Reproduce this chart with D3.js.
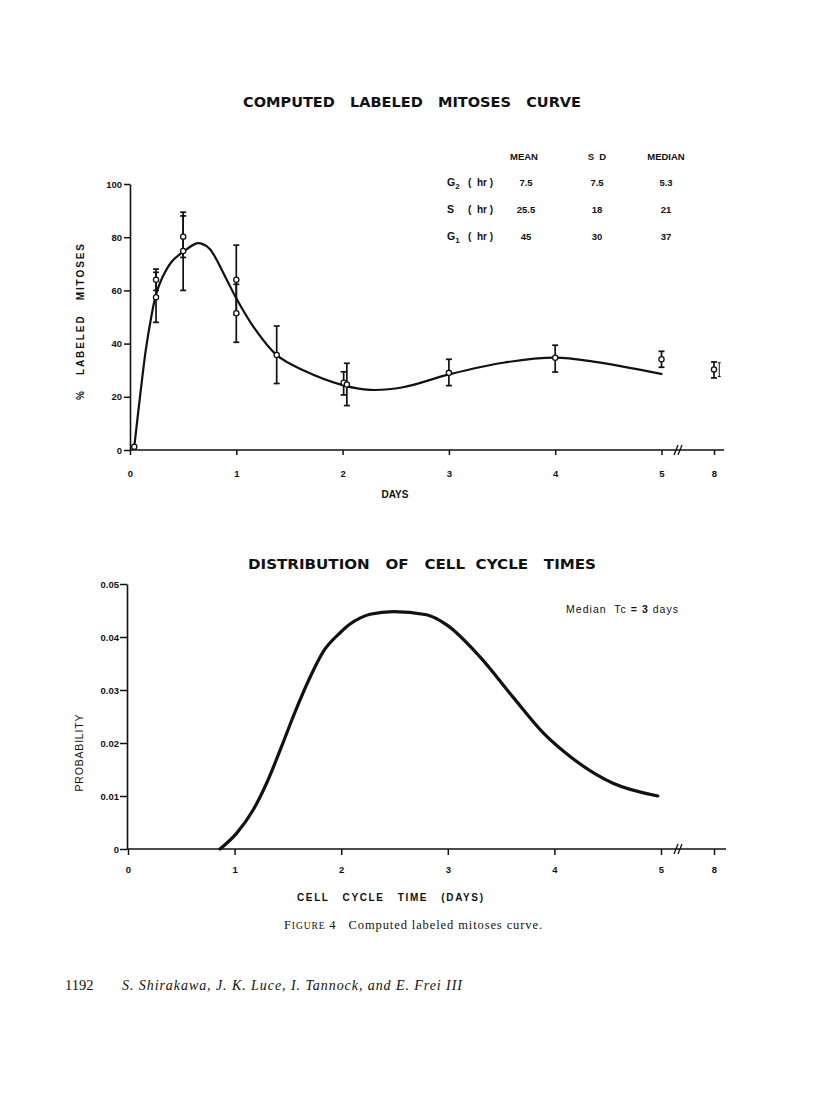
<!DOCTYPE html>
<html>
<head>
<meta charset="utf-8">
<script src="https://cdn.jsdelivr.net/npm/d3@7"></script>
<style>
  body { margin: 0; background: #fff; }
  svg { display: block; }
  .tick text { font-family: "Liberation Sans", Arial, sans-serif; font-weight: bold; font-size: 9.5px; fill: #111; }
  .sans { font-family: "Liberation Sans", Arial, sans-serif; fill: #111; }
  .serif { font-family: "Liberation Serif", "DejaVu Serif", serif; fill: #111; }
</style>
</head>
<body>
<div id="page"></div>
<script>
// --- top chart: observed labeled mitoses (time in days, % labeled) ---
const obsTime = [0.04, 0.245, 0.245, 0.5, 0.5, 1.0, 1.0, 1.38, 2.01, 2.04, 3.0, 4.0, 5.0, 8.0];
const obsValue = [1.2, 64, 57.4, 80.2, 74.8, 64, 51.4, 35.7, 25.3, 24.6, 29, 34.7, 34.1, 30.3];
const obsLow = [null, 60, 48, 72.4, 60, 51, 40.5, 25, 20.7, 16.7, 24.2, 29.3, 31.1, 27.1];
const obsHigh = [null, 68, 66.8, 88, 89.4, 77, 62.3, 46.6, 29.4, 32.6, 34.1, 39.4, 37.1, 33.1];
// second bar drawn beside the 8-day point
const extraBarTime = [8.3];
const extraBarLow = [27.6];
const extraBarHigh = [32.8];

// computed curve
const curveTime = [0.04, 0.1, 0.15, 0.2, 0.245, 0.3, 0.392, 0.5, 0.627, 0.69, 0.753, 0.91, 1.0, 1.16, 1.38, 1.63, 2.0, 2.26, 2.57, 3.01, 3.51, 4.0, 4.36, 5.05];
const curveValue = [1.2, 22, 38, 50, 58.5, 64.5, 70.8, 74.5, 77.7, 77.3, 75.5, 64, 57, 46.4, 35.7, 30, 24.4, 22.6, 23.6, 28.5, 32.8, 34.7, 33.2, 28.5];

// table of phase durations
const tablePhases = ["G", "S", "G"];
const tableSubs = ["2", "", "1"];
const tableHeads = ["MEAN", "S D", "MEDIAN"];
const tableMean = ["7.5", "25.5", "45"];
const tableSD = ["7.5", "18", "30"];
const tableMedian = ["5.3", "21", "37"];

// --- bottom chart: distribution of cell cycle times ---
const distTime = [0.863, 1.02, 1.175, 1.3, 1.44, 1.55, 1.71, 1.83, 1.99, 2.08, 2.18, 2.27, 2.49, 2.8, 2.99, 3.3, 3.61, 3.9, 4.15, 4.55, 4.97];
const distProb = [0, 0.003, 0.0074, 0.0124, 0.0193, 0.025, 0.0325, 0.0372, 0.0408, 0.0424, 0.0436, 0.0443, 0.0448, 0.0442, 0.0423, 0.0363, 0.0287, 0.0218, 0.0174, 0.0124, 0.01];

const xTicks = [0, 1, 2, 3, 4, 5, 8];
const yTicksTop = [0, 20, 40, 60, 80, 100];
const yTicksBot = [0, 0.01, 0.02, 0.03, 0.04, 0.05];

const W = 816, H = 1100;
const ink = "#111";

const svg = d3.select("#page").append("svg")
  .attr("width", W).attr("height", H)
  .attr("viewBox", `0 0 ${W} ${H}`);

svg.append("rect").attr("width", W).attr("height", H).attr("fill", "#fff");

// scales (piecewise x: break between 5 and 8)
const xTop = d3.scaleLinear().domain([0, 5, 8]).range([130, 661.5, 714]);
const yTop = d3.scaleLinear().domain([0, 100]).range([450, 184]);
const xBot = d3.scaleLinear().domain([0, 5, 8]).range([128, 661, 714]);
const yBot = d3.scaleLinear().domain([0, 0.05]).range([849, 584]);

function styleAxis(g) {
  g.selectAll(".domain").attr("stroke", ink).attr("stroke-width", 1.6);
  g.selectAll(".tick line").attr("stroke", ink).attr("stroke-width", 1.5);
}

function breakMark(g, x, y) {
  [0, 4].forEach(dx => {
    g.append("line")
      .attr("x1", x + dx - 2).attr("y1", y + 5)
      .attr("x2", x + dx + 2).attr("y2", y - 5)
      .attr("stroke", ink).attr("stroke-width", 1.3);
  });
}

// ================= TOP CHART =================
const topG = svg.append("g");

topG.append("text").attr("class", "sans")
  .attr("x", 243).attr("y", 107)
  .attr("textLength", 338).attr("lengthAdjust", "spacingAndGlyphs")
  .style("font-family", "'DejaVu Sans', sans-serif")
  .style("font-size", "14px").style("font-weight", "bold")
  .style("white-space", "pre")
  .text("COMPUTED   LABELED   MITOSES   CURVE");

// y axis
const yAxT = topG.append("g")
  .attr("transform", `translate(${xTop(0)},0)`)
  .call(d3.axisLeft(yTop).tickValues(yTicksTop).tickSize(6).tickSizeOuter(0).tickPadding(2));
styleAxis(yAxT);

// x axis
const xAxT = topG.append("g")
  .attr("transform", `translate(0,${yTop(0)})`)
  .call(d3.axisBottom(xTop).tickValues(xTicks).tickSize(5).tickSizeOuter(0).tickPadding(15));
styleAxis(xAxT);
xAxT.select(".domain").remove();
topG.append("line")
  .attr("x1", xTop(0)).attr("x2", 724)
  .attr("y1", yTop(0)).attr("y2", yTop(0))
  .attr("stroke", ink).attr("stroke-width", 1.6);
breakMark(topG, 676, yTop(0));

topG.append("text").attr("class", "sans")
  .attr("x", 395).attr("y", 498)
  .attr("text-anchor", "middle")
  .style("font-size", "10px").style("font-weight", "bold")
  .text("DAYS");

topG.append("text").attr("class", "sans")
  .attr("transform", "translate(84,322) rotate(-90)")
  .attr("text-anchor", "middle")
  .attr("textLength", 156).attr("lengthAdjust", "spacing")
  .style("font-size", "10px").style("font-weight", "600").style("white-space", "pre")
  .text("%   LABELED   MITOSES");

// curve
topG.append("path")
  .datum(curveTime.map((t, i) => [t, curveValue[i]]))
  .attr("fill", "none").attr("stroke", ink).attr("stroke-width", 2.2)
  .attr("d", d3.line().x(d => xTop(d[0])).y(d => yTop(d[1])).curve(d3.curveCatmullRom.alpha(0.5)));

// error bars
const obs = obsTime.map((t, i) => ({ t, v: obsValue[i], lo: obsLow[i], hi: obsHigh[i] }));
const bars = obs.filter(d => d.lo !== null);
const cap = 3;
const eb = topG.append("g").attr("stroke", ink).attr("stroke-width", 1.7);
eb.selectAll("line.v").data(bars).join("line").attr("class", "v")
  .attr("x1", d => xTop(d.t)).attr("x2", d => xTop(d.t))
  .attr("y1", d => yTop(d.lo)).attr("y2", d => yTop(d.hi));
eb.selectAll("line.lo").data(bars).join("line").attr("class", "lo")
  .attr("x1", d => xTop(d.t) - cap).attr("x2", d => xTop(d.t) + cap)
  .attr("y1", d => yTop(d.lo)).attr("y2", d => yTop(d.lo));
eb.selectAll("line.hi").data(bars).join("line").attr("class", "hi")
  .attr("x1", d => xTop(d.t) - cap).attr("x2", d => xTop(d.t) + cap)
  .attr("y1", d => yTop(d.hi)).attr("y2", d => yTop(d.hi));

const extra = extraBarTime.map((t, i) => ({ t, lo: extraBarLow[i], hi: extraBarHigh[i] }));
const eb2 = topG.append("g").attr("stroke", ink).attr("stroke-width", 1);
eb2.selectAll("line.v").data(extra).join("line").attr("class", "v")
  .attr("x1", d => xTop(d.t)).attr("x2", d => xTop(d.t))
  .attr("y1", d => yTop(d.lo)).attr("y2", d => yTop(d.hi));
eb2.selectAll("line.c").data(extra.flatMap(d => [[d.t, d.lo], [d.t, d.hi]])).join("line").attr("class", "c")
  .attr("x1", d => xTop(d[0]) - 1.5).attr("x2", d => xTop(d[0]) + 1.5)
  .attr("y1", d => yTop(d[1])).attr("y2", d => yTop(d[1]));

topG.selectAll("circle.obs").data(obs).join("circle")
  .attr("class", "obs")
  .attr("cx", d => xTop(d.t)).attr("cy", d => yTop(d.v))
  .attr("r", 2.6)
  .attr("fill", "#fff").attr("stroke", ink).attr("stroke-width", 1.3);

// table
const colX = [526, 597, 666];
const rowY = [186, 213, 240];
const tbl = topG.append("g");
tbl.selectAll("text.head").data(tableHeads).join("text")
  .attr("class", "head sans")
  .attr("x", (d, i) => colX[i] - (i === 0 ? 2 : 0)).attr("y", 160)
  .attr("text-anchor", "middle")
  .style("font-size", "9.5px").style("font-weight", "600").style("white-space", "pre")
  .text(d => d === "S D" ? "S  D" : d);

tablePhases.forEach((p, i) => {
  const t = tbl.append("text").attr("class", "sans")
    .attr("x", 447).attr("y", rowY[i])
    .style("font-size", "10.5px").style("font-weight", "600");
  t.append("tspan").text(p);
  if (tableSubs[i]) t.append("tspan").attr("dy", 2.5).style("font-size", "8px").text(tableSubs[i]);
  tbl.append("text").attr("class", "sans")
    .attr("x", 468).attr("y", rowY[i])
    .style("font-size", "10px").style("font-weight", "600").style("white-space", "pre")
    .text("(  hr )");
  [tableMean[i], tableSD[i], tableMedian[i]].forEach((v, j) => {
    tbl.append("text").attr("class", "sans")
      .attr("x", colX[j]).attr("y", rowY[i])
      .attr("text-anchor", "middle")
      .style("font-size", "9.5px").style("font-weight", "bold")
      .text(v);
  });
});

// ================= BOTTOM CHART =================
const botG = svg.append("g");

botG.append("text").attr("class", "sans")
  .attr("x", 248).attr("y", 569)
  .attr("textLength", 348).attr("lengthAdjust", "spacingAndGlyphs")
  .style("font-family", "'DejaVu Sans', sans-serif")
  .style("font-size", "13.5px").style("font-weight", "bold")
  .style("white-space", "pre")
  .text("DISTRIBUTION   OF   CELL  CYCLE   TIMES");

const yAxB = botG.append("g")
  .attr("transform", `translate(${xBot(0) - 1},0)`)
  .call(d3.axisLeft(yBot).tickValues(yTicksBot).tickSize(7).tickSizeOuter(0).tickPadding(1)
    .tickFormat(d => d === 0 ? "0" : d3.format(".2f")(d)));
styleAxis(yAxB);

const xAxB = botG.append("g")
  .attr("transform", `translate(0,${yBot(0)})`)
  .call(d3.axisBottom(xBot).tickValues(xTicks).tickSize(6).tickSizeOuter(0).tickPadding(11));
styleAxis(xAxB);
xAxB.select(".domain").remove();
botG.append("line")
  .attr("x1", xBot(0) - 1).attr("x2", 726)
  .attr("y1", yBot(0)).attr("y2", yBot(0))
  .attr("stroke", ink).attr("stroke-width", 1.6);
breakMark(botG, 676, yBot(0));

botG.append("text").attr("class", "sans")
  .attr("transform", "translate(83,753) rotate(-90)")
  .attr("text-anchor", "middle")
  .attr("textLength", 77).attr("lengthAdjust", "spacing")
  .style("font-size", "10.5px")
  .text("PROBABILITY");

botG.append("text").attr("class", "sans")
  .attr("x", 297).attr("y", 901)
  .attr("textLength", 186).attr("lengthAdjust", "spacing")
  .style("font-size", "10px").style("font-weight", "600").style("white-space", "pre")
  .text("CELL   CYCLE   TIME   (DAYS)");

const med = botG.append("text").attr("class", "sans")
  .attr("x", 566).attr("y", 613)
  .attr("textLength", 112).attr("lengthAdjust", "spacing")
  .style("font-size", "10.5px").style("white-space", "pre");
med.append("tspan").text("Median  Tc ");
med.append("tspan").text("=").style("font-weight", "bold");
med.append("tspan").text(" 3").style("font-weight", "bold");
med.append("tspan").text(" days");

botG.append("path")
  .datum(distTime.map((t, i) => [t, distProb[i]]))
  .attr("fill", "none").attr("stroke", ink).attr("stroke-width", 3.2)
  .attr("stroke-linecap", "round")
  .attr("d", d3.line().x(d => xBot(d[0])).y(d => yBot(d[1])).curve(d3.curveMonotoneX));

// caption & footer
const cap1 = svg.append("text").attr("class", "serif")
  .attr("x", 284).attr("y", 929)
  .attr("textLength", 258).attr("lengthAdjust", "spacing")
  .style("font-size", "12.5px").style("white-space", "pre");
cap1.append("tspan").text("F");
cap1.append("tspan").style("font-size", "9.5px").text("IGURE");
cap1.append("tspan").text(" 4   Computed labeled mitoses curve.");

svg.append("text").attr("class", "serif")
  .attr("x", 65).attr("y", 990)
  .style("font-size", "14.5px")
  .text("1192");

svg.append("text").attr("class", "serif")
  .attr("x", 122).attr("y", 990)
  .attr("textLength", 340).attr("lengthAdjust", "spacing")
  .style("font-size", "14px").style("font-style", "italic")
  .text("S. Shirakawa, J. K. Luce, I. Tannock, and E. Frei III");
</script>
</body>
</html>
